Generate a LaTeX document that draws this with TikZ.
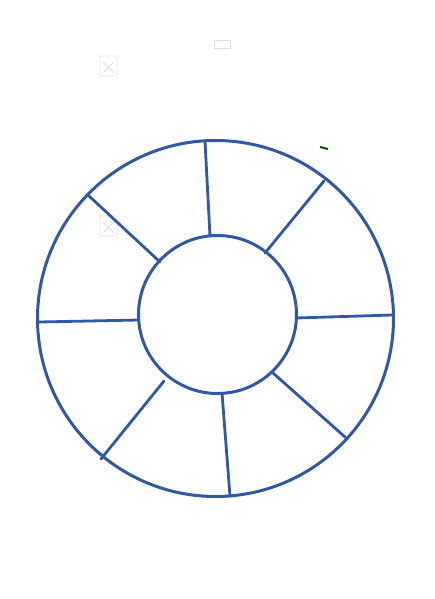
\documentclass[tikz,border=0pt]{standalone}
\definecolor{pen}{RGB}{48,88,168}
\definecolor{ghost}{RGB}{222,224,230}
\tikzset{
  ring/.style={draw=pen, line width=3pt},
  spoke/.style={draw=pen, line width=2.8pt, line cap=round},
  ghostbox/.style={draw=ghost, line width=0.8pt}
}
\begin{document}
\begin{tikzpicture}[x=1pt,y=-1pt]
\useasboundingbox[fill=white] (0,0) rectangle (435,599);
% faint bleed-through marks
\draw[ghostbox] (100,56) rectangle (117,76) (103,62) -- (114,73) (114,62) -- (103,73);
\draw[ghostbox] (214,40) rectangle (230,48);
\draw[ghostbox] (100,216) rectangle (117,236) (103,222) -- (114,233) (114,222) -- (103,233);
% rings
\draw[ring] (215.5,318.5) circle[radius=178];
\draw[ring] (217.5,314.5) circle[radius=79];
% spoke end points
\coordinate (o1) at (205,141);   \coordinate (i1) at (210,236);
\coordinate (o2) at (324,181);   \coordinate (i2) at (265,253);
\coordinate (o3) at (392,315);   \coordinate (i3) at (296,318);
\coordinate (o4) at (345,437);   \coordinate (i4) at (273,373);
\coordinate (o5) at (230,496);   \coordinate (i5) at (222,393);
\coordinate (o6) at (101,459);   \coordinate (i6) at (164,381);
\coordinate (o7) at (39,322);    \coordinate (i7) at (139,320);
\coordinate (o8) at (89,196);    \coordinate (i8) at (160,262);
\foreach \k in {1,...,8} \draw[spoke] (o\k) -- (i\k);
% small mark
\draw[line width=2pt, draw=black!65!green] (320,147) -- (328,149);
\end{tikzpicture}
\end{document}
